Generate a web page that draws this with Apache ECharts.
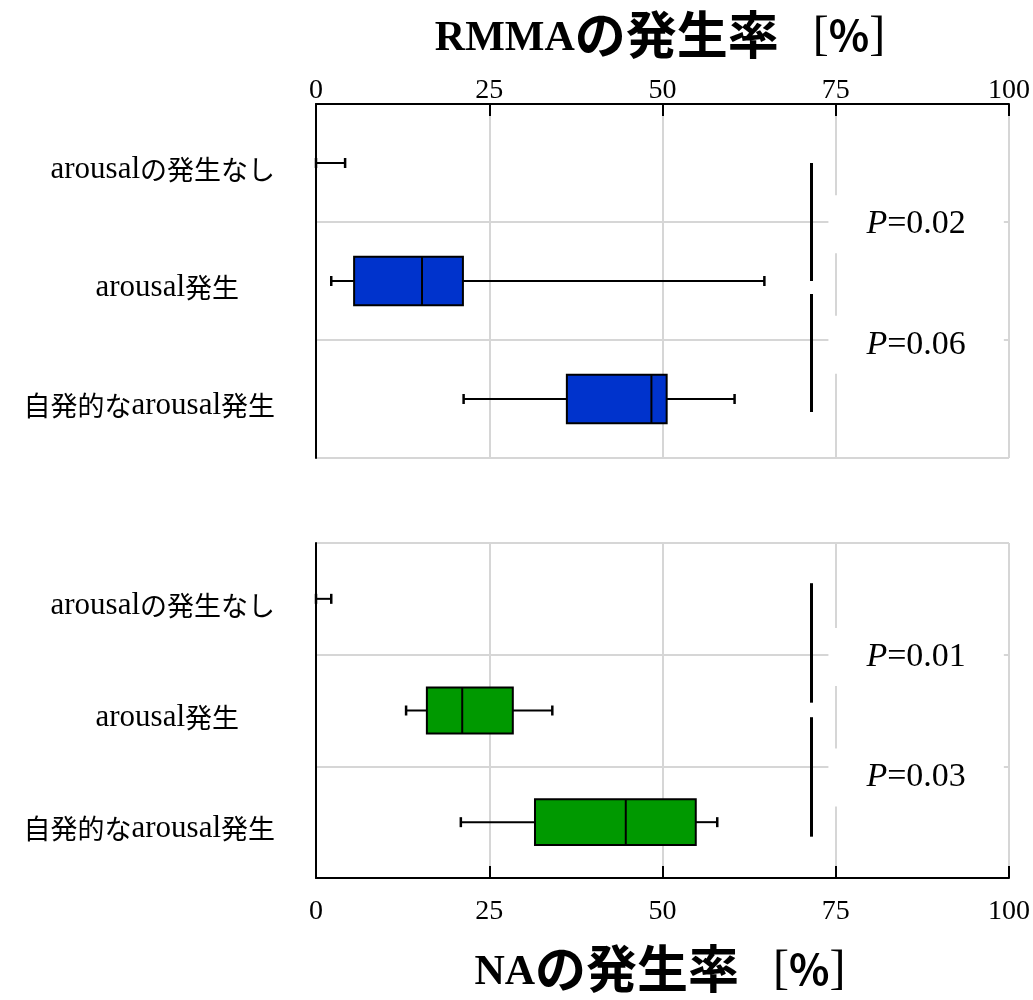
<!DOCTYPE html>
<html>
<head>
<meta charset="utf-8">
<script src="https://cdn.jsdelivr.net/npm/echarts@6/dist/echarts.min.js"></script>
<style>
  html, body { margin: 0; padding: 0; background: #fff; }
  #chart { width: 1033px; height: 1000px; }
</style>
</head>
<body>
<div id="chart"></div>
<script>
// Row labels (top to bottom)
const categories = ['arousalの発生なし', 'arousal発生', '自発的なarousal発生'];

// Box statistics per row: [min, Q1, median, Q3, max]  (%)
const rmmaStats = [
  [0, 0, 0, 0, 4.2],
  [2.2, 5.5, 15.3, 21.2, 64.7],
  [21.3, 36.2, 48.4, 50.6, 60.4]
];
const naStats = [
  [0, 0, 0, 0, 2.2],
  [13.0, 16.0, 21.1, 28.4, 34.1],
  [20.9, 31.6, 44.7, 54.8, 57.9]
];

// Value axis ticks
const xTicks = [0, 25, 50, 75, 100];

// Significance brackets: x value and row span [from, to] (row index units)
const bracketX = 71.5;
const rmmaBrackets = [[0.0, 1.0], [1.11, 2.11]];
const naBrackets = [[-0.14, 0.93], [1.06, 2.13]];

// P values and the row position of each annotation
const pLabelX = 86.6;
const rmmaP = ['0.02', '0.06'];
const rmmaPRows = [0.52, 1.54];
const naP = ['0.01', '0.03'];
const naPRows = [0.52, 1.6];

const SERIF = "'Liberation Serif', 'Times New Roman', serif";
const CJK = "'Noto Sans CJK JP', sans-serif";
const GRID_COLOR = '#d6d6d6';

function boxRenderer(fill) {
  return function (params, api) {
    const idx = api.value(0);
    const v = [1, 2, 3, 4, 5].map(d => api.value(d));
    const c = v.map(x => api.coord([x, idx]));
    const y = c[0][1];
    const band = api.size([0, 1])[1];
    const h = band * 0.41;
    const cap = 5;
    const thin = { stroke: '#000', lineWidth: 2 };
    const capStyle = { stroke: '#000', lineWidth: 2.5 };
    const children = [
      { type: 'line', shape: { x1: c[0][0], y1: y, x2: c[1][0], y2: y }, style: thin },
      { type: 'line', shape: { x1: c[3][0], y1: y, x2: c[4][0], y2: y }, style: thin },
      { type: 'line', shape: { x1: c[0][0], y1: y - cap, x2: c[0][0], y2: y + cap }, style: capStyle },
      { type: 'line', shape: { x1: c[4][0], y1: y - cap, x2: c[4][0], y2: y + cap }, style: capStyle }
    ];
    if (v[3] > v[1]) {
      children.push({
        type: 'rect',
        shape: { x: c[1][0], y: y - h / 2, width: c[3][0] - c[1][0], height: h },
        style: { fill: fill, stroke: '#000', lineWidth: 2 }
      });
      children.push({
        type: 'line',
        shape: { x1: c[2][0], y1: y - h / 2, x2: c[2][0], y2: y + h / 2 },
        style: thin
      });
    }
    return { type: 'group', children: children };
  };
}

function bracketRenderer(params, api) {
  const a = api.coord([api.value(0), api.value(1)]);
  const b = api.coord([api.value(0), api.value(2)]);
  return {
    type: 'line',
    shape: { x1: a[0], y1: a[1], x2: b[0], y2: b[1] },
    style: { stroke: '#000', lineWidth: 3 }
  };
}

// Latin runs in serif, Japanese runs in gothic
function mixedLabel(v) {
  const runs = v.match(/[A-Za-z]+|[^A-Za-z]+/g) || [];
  const body = runs.map(r => (/^[A-Za-z]/.test(r) ? '{l|' + r + '}' : '{j|' + r + '}')).join('');
  return v === categories[1] ? body + '{pad|}' : body;
}

function valueAxis(gridIndex, position, labelMargin) {
  return {
    type: 'value',
    gridIndex: gridIndex,
    position: position,
    min: xTicks[0],
    max: xTicks[xTicks.length - 1],
    interval: xTicks[1] - xTicks[0],
    axisLine: { show: true, onZero: false, lineStyle: { color: '#000', width: 2 } },
    axisTick: { show: true, inside: true, length: 12, lineStyle: { color: '#000', width: 2 } },
    axisLabel: { color: '#000', fontFamily: SERIF, fontSize: 28, margin: labelMargin },
    splitLine: { show: true, lineStyle: { color: GRID_COLOR, width: 2 } }
  };
}

function categoryAxis(gridIndex) {
  return {
    type: 'category',
    gridIndex: gridIndex,
    inverse: true,
    data: categories,
    axisLine: { show: true, onZero: false, lineStyle: { color: '#000', width: 2 } },
    axisTick: { show: false },
    splitLine: { show: true, lineStyle: { color: GRID_COLOR, width: 2 } },
    axisLabel: {
      color: '#000',
      margin: 41,
      padding: [14, 0, 0, 0],
      formatter: mixedLabel,
      rich: {
        l: { fontFamily: SERIF, fontSize: 31, color: '#000' },
        j: { fontFamily: CJK, fontSize: 27, color: '#000' },
        pad: { fontFamily: CJK, fontSize: 27, width: 36 }
      }
    }
  };
}

function rowAxis(gridIndex) {
  return { type: 'value', gridIndex: gridIndex, min: -0.5, max: 2.5, inverse: true, show: false };
}

function pSeries(xAxisIndex, yAxisIndex, values, rows) {
  return {
    type: 'scatter',
    xAxisIndex: xAxisIndex,
    yAxisIndex: yAxisIndex,
    symbolSize: 0,
    silent: true,
    itemStyle: { opacity: 1 },
    data: rows.map((r, i) => [pLabelX, r, values[i]]),
    label: {
      show: true,
      position: 'inside',
      color: '#000',
      opacity: 1,
      formatter: p => '{i|P}{n|=' + p.value[2] + '}',
      backgroundColor: '#fff',
      padding: [12, 38],
      rich: {
        i: { fontFamily: SERIF, fontStyle: 'italic', fontSize: 34, color: '#000' },
        n: { fontFamily: SERIF, fontSize: 34, color: '#000' }
      }
    },
    z: 5
  };
}

function titleText(head) {
  return {
    text: '{lat|' + head + '}{cjk|の発生率}{sp|}{br|[}{pc|%}{br|]}',
    rich: {
      lat: { fontFamily: SERIF, fontWeight: 'bold', fontSize: 42, color: '#000', verticalAlign: 'bottom', lineHeight: 38 },
      cjk: { fontFamily: CJK, fontWeight: 'bold', fontSize: 51, color: '#000' },
      sp: { fontFamily: CJK, fontSize: 20, width: 34 },
      br: { fontFamily: SERIF, fontSize: 48, color: '#000', verticalAlign: 'bottom', lineHeight: 48 },
      pc: { fontFamily: CJK, fontWeight: 'bold', fontSize: 42, color: '#000' }
    },
    align: 'center',
    verticalAlign: 'middle'
  };
}

const chart = echarts.init(document.getElementById('chart'), null, { renderer: 'canvas' });

chart.setOption({
  animation: false,
  backgroundColor: '#fff',
  grid: [
    { left: 316, top: 104, width: 694, height: 354, containLabel: false },
    { left: 316, top: 543, width: 694, height: 335, containLabel: false }
  ],
  xAxis: [
    valueAxis(0, 'top', -1),
    valueAxis(1, 'bottom', 20)
  ],
  yAxis: [
    categoryAxis(0),
    categoryAxis(1),
    rowAxis(0),
    rowAxis(1)
  ],
  graphic: [
    { type: 'text', x: 660, y: 35, style: titleText('RMMA') },
    { type: 'text', x: 660, y: 969, style: titleText('NA') }
  ],
  series: [
    {
      type: 'custom',
      name: 'RMMA',
      xAxisIndex: 0,
      yAxisIndex: 0,
      renderItem: boxRenderer('#0033cc'),
      encode: { x: [1, 2, 3, 4, 5], y: 0 },
      data: rmmaStats.map((s, i) => [i].concat(s)),
      z: 3
    },
    {
      type: 'custom',
      name: 'NA',
      xAxisIndex: 1,
      yAxisIndex: 1,
      renderItem: boxRenderer('#009900'),
      encode: { x: [1, 2, 3, 4, 5], y: 0 },
      data: naStats.map((s, i) => [i].concat(s)),
      z: 3
    },
    {
      type: 'custom',
      xAxisIndex: 0,
      yAxisIndex: 2,
      renderItem: bracketRenderer,
      encode: { x: 0, y: [1, 2] },
      data: rmmaBrackets.map(b => [bracketX, b[0], b[1]]),
      z: 4
    },
    {
      type: 'custom',
      xAxisIndex: 1,
      yAxisIndex: 3,
      renderItem: bracketRenderer,
      encode: { x: 0, y: [1, 2] },
      data: naBrackets.map(b => [bracketX, b[0], b[1]]),
      z: 4
    },
    pSeries(0, 2, rmmaP, rmmaPRows),
    pSeries(1, 3, naP, naPRows)
  ]
});
</script>
</body>
</html>
